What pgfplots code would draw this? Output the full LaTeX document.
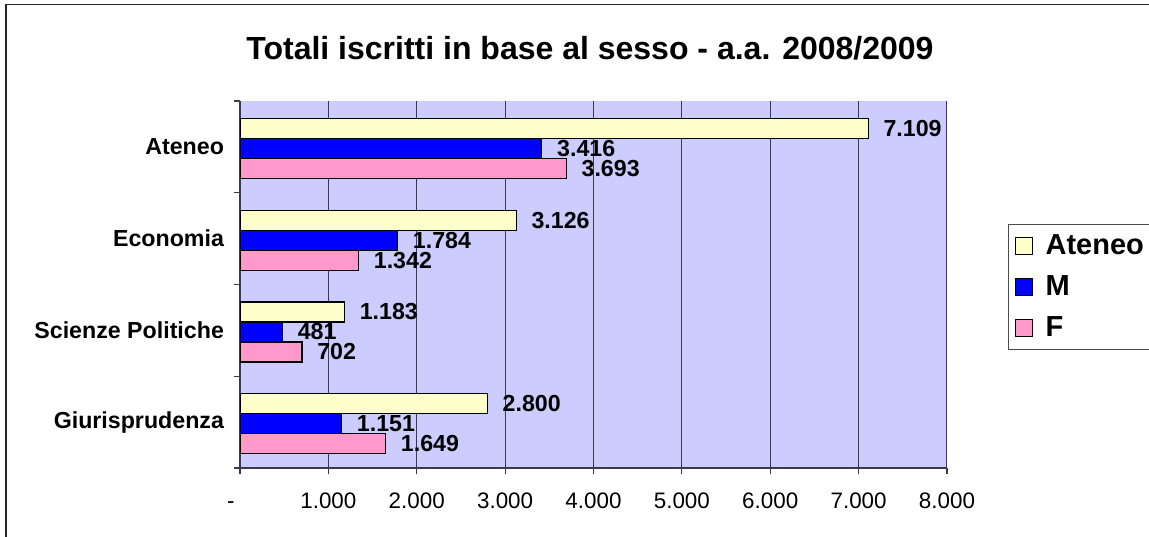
\documentclass[border=0pt]{standalone}
\usepackage{fontspec}
\setmainfont{Liberation Sans}
\usepackage{pgfplots}
\pgfplotsset{compat=1.18}
\definecolor{bgl}{HTML}{CCCCFF}
\definecolor{yel}{HTML}{FFFFCC}
\definecolor{blu}{HTML}{0000FF}
\definecolor{pnk}{HTML}{FF99CC}
\definecolor{gridc}{HTML}{3A3A4A}
\begin{document}
\begin{tikzpicture}
\useasboundingbox (-120pt,-34pt) rectangle (454.5pt,234pt);
\draw[line width=0.8pt, black!85] (-117pt,-40pt) -- (-117pt,231.8pt) -- (460pt,231.8pt);
\begin{axis}[
  at={(0pt,0pt)}, anchor=south west,
  scale only axis, width=353.5pt, height=183.5pt,
  xbar, bar width=10pt,
  xmin=0, xmax=8000, ymin=-0.5, ymax=3.5,
  axis x line*=bottom, axis y line*=left,
  axis line style={gridc, line width=0.6pt, -},
  axis background/.style={fill=bgl},
  tick align=outside,
  major tick length=3pt, minor tick length=3pt,
  tick style={gridc, line width=0.6pt},
  xtick={0,1000,...,8000},
  xticklabels={{\vphantom{0}\llap{-\hspace{2.7pt}}},1.000,2.000,3.000,4.000,5.000,6.000,7.000,8.000},
  xticklabel style={font=\fontsize{11.2}{13}\selectfont, yshift=-6pt},
  xmajorgrids, grid style={gridc, line width=0.5pt},
  ytick={0,1,2,3},
  yticklabels={Giurisprudenza,Scienze Politiche,Economia,Ateneo},
  yticklabel style={font=\bfseries\fontsize{11.6}{13}\selectfont, xshift=-1.5pt},
  major y tick style={draw=none},
  minor ytick={-0.5,0.5,1.5,2.5,3.5},
  /pgf/number format/.cd, 1000 sep={.}, assume math mode=true, /pgfplots/.cd,
  nodes near coords,
  every node near coord/.append style={font=\bfseries\fontsize{11.6}{13}\selectfont, anchor=west, xshift=4pt, text=black},
  title={Totali iscritti in base al sesso - a.a. 2008/2009},
  title style={font=\bfseries\fontsize{16}{19}\selectfont, at={(0.495,1)}, anchor=base, yshift=15pt},
  legend style={at={(1.0863,0.665)}, anchor=north west, draw=black!70, line width=0.5pt,
    font=\bfseries\fontsize{14.5}{17}\selectfont, row sep=5pt, inner sep=3pt},
  legend cell align=left,
  legend image code/.code={\draw[#1, draw=black, line width=0.5pt] (1pt,-4.25pt) rectangle (9.5pt,4.25pt); \path (14pt,0pt);},
]
\addplot[fill=yel, draw=black, line width=0.6pt, bar shift=9.2pt] coordinates {(2800,0) (1183,1) (3126,2) (7109,3)};
\addplot[fill=blu, draw=black, line width=0.6pt, bar shift=-0.8pt] coordinates {(1151,0) (481,1) (1784,2) (3416,3)};
\addplot[fill=pnk, draw=black, line width=0.6pt, bar shift=-10.8pt] coordinates {(1649,0) (702,1) (1342,2) (3693,3)};
\legend{Ateneo\hspace{8pt},M,F}
\end{axis}
\end{tikzpicture}
\end{document}
